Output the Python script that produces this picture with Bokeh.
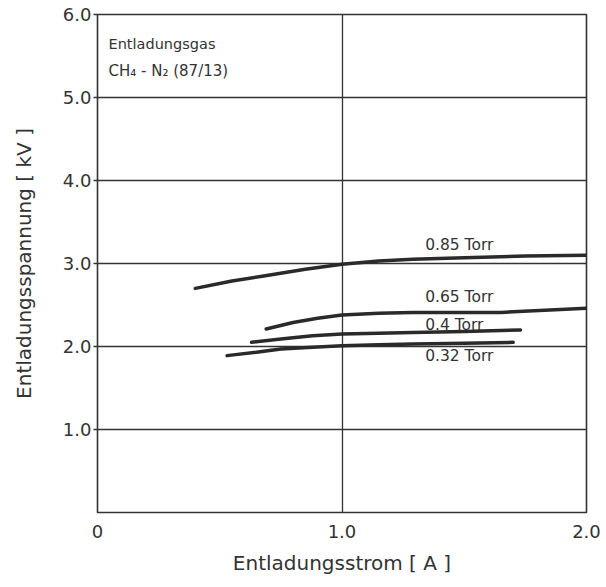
from bokeh.plotting import figure
from bokeh.models import Label, FixedTicker, Range1d
from bokeh.embed import file_html
from bokeh.resources import INLINE

# Data (x: current [A], y: voltage [kV])
x_085 = [0.40, 0.55, 0.68, 0.85, 1.00, 1.15, 1.29, 1.50, 1.75, 2.00]
y_085 = [2.70, 2.79, 2.85, 2.93, 2.99, 3.03, 3.05, 3.07, 3.09, 3.10]

x_065 = [0.69, 0.80, 0.90, 1.00, 1.15, 1.29, 1.50, 1.65, 1.85, 2.00]
y_065 = [2.21, 2.29, 2.34, 2.38, 2.40, 2.41, 2.41, 2.41, 2.44, 2.46]

x_04 = [0.63, 0.75, 0.88, 1.00, 1.15, 1.29, 1.50, 1.73]
y_04 = [2.05, 2.09, 2.13, 2.15, 2.16, 2.17, 2.18, 2.20]

x_032 = [0.53, 0.65, 0.75, 0.88, 1.00, 1.15, 1.29, 1.50, 1.70]
y_032 = [1.89, 1.93, 1.97, 1.99, 2.01, 2.02, 2.03, 2.04, 2.05]

series_labels = ["0.85 Torr", "0.65 Torr", "0.4 Torr", "0.32 Torr"]
x_ticks = [0, 1, 2]
x_tick_labels = ["0", "1.0", "2.0"]
y_ticks = [1, 2, 3, 4, 5, 6]
y_tick_labels = ["1.0", "2.0", "3.0", "4.0", "5.0", "6.0"]

FONT = "DejaVu Sans"
INK = "#333333"

p = figure(width=606, height=587, output_backend="svg", toolbar_location=None,
           x_range=Range1d(0, 2), y_range=Range1d(0, 6))
p.min_border_left = 97
p.min_border_right = 20
p.min_border_top = 14
p.min_border_bottom = 75
p.outline_line_color = INK
p.outline_line_width = 1.6
p.background_fill_color = "white"
p.border_fill_color = "white"

p.xgrid.ticker = FixedTicker(ticks=[1])
p.ygrid.ticker = FixedTicker(ticks=[1, 2, 3, 4, 5])
p.xgrid.grid_line_color = INK
p.ygrid.grid_line_color = INK
p.xgrid.grid_line_width = 1.3
p.ygrid.grid_line_width = 1.3

p.xaxis.ticker = FixedTicker(ticks=x_ticks)
p.xaxis.major_label_overrides = {t: l for t, l in zip(x_ticks, x_tick_labels)}
p.yaxis.ticker = FixedTicker(ticks=y_ticks)
p.yaxis.major_label_overrides = {t: l for t, l in zip(y_ticks, y_tick_labels)}

for ax in (p.xaxis, p.yaxis):
    ax.axis_line_color = None
    ax.minor_tick_line_color = None
    ax.major_tick_in = 0
    ax.major_label_text_font = FONT
    ax.major_label_text_font_size = "18px"
    ax.major_label_text_color = INK
    ax.axis_label_text_font = FONT
    ax.axis_label_text_font_size = "20px"
    ax.axis_label_text_font_style = "normal"
    ax.axis_label_text_color = INK

p.xaxis.major_tick_out = 0
p.xaxis.major_label_standoff = 12
p.xaxis.axis_label = "Entladungsstrom [ A ]"
p.xaxis.axis_label_standoff = 10

p.yaxis.major_tick_out = 4
p.yaxis.major_tick_line_color = INK
p.yaxis.major_tick_line_width = 1.3
p.yaxis.major_label_standoff = 2
p.yaxis.axis_label = "Entladungsspannung [ kV ]"
p.yaxis.axis_label_standoff = 24

for xs, ys in [(x_085, y_085), (x_065, y_065), (x_04, y_04), (x_032, y_032)]:
    p.line(xs, ys, line_color="#2a2a2a", line_width=3.5, line_cap="round", line_join="round")

label_pos = [(1.34, 3.22), (1.34, 2.60), (1.34, 2.26), (1.34, 1.89)]
for (lx, ly), txt in zip(label_pos, series_labels):
    p.add_layout(Label(x=lx, y=ly, text=txt, text_font=FONT, text_font_size="15.5px",
                       text_color=INK, text_baseline="middle"))

p.add_layout(Label(x=0.045, y=5.64, text="Entladungsgas", text_font=FONT,
                   text_font_size="14.5px", text_color=INK, text_baseline="middle"))
p.add_layout(Label(x=0.045, y=5.32, text="CH\u2084 - N\u2082 (87/13)", text_font=FONT,
                   text_font_size="15px", text_color=INK, text_baseline="middle"))

open("out.html", "w").write(file_html(p, INLINE))
